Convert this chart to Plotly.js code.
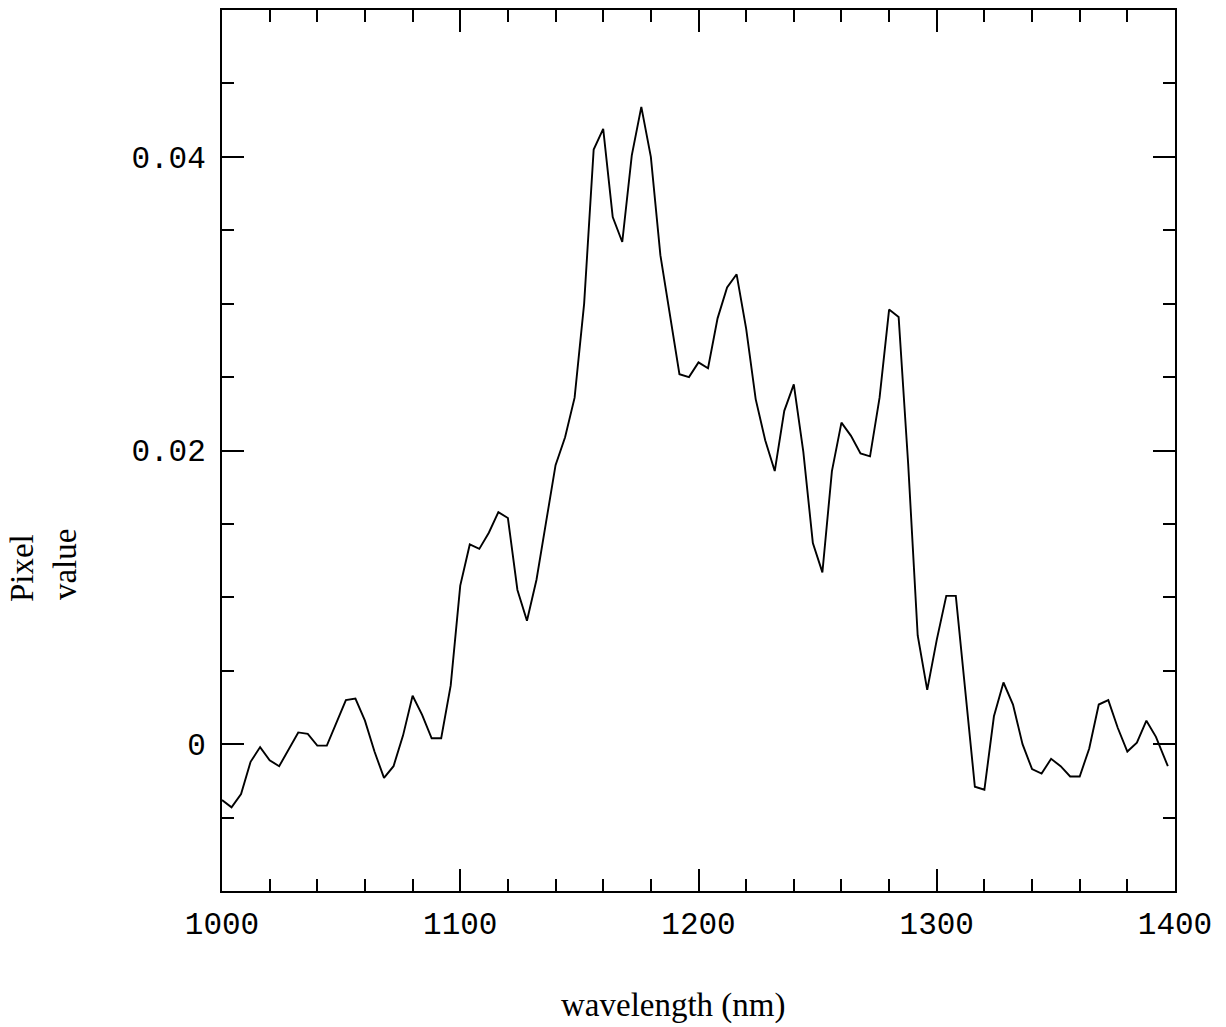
<!DOCTYPE html>
<html>
<head>
<meta charset="utf-8">
<script src="https://cdn.plot.ly/plotly-3.0.1.min.js"></script>
<style>
  html, body { margin: 0; padding: 0; background: #ffffff; }
  #chart { width: 1226px; height: 1027px; }
</style>
</head>
<body>
<div id="chart"></div>
<script>
const wavelength = [
  1000, 1004, 1008, 1012, 1016, 1020, 1024, 1028, 1032, 1036,
  1040, 1044, 1048, 1052, 1056, 1060, 1064, 1068, 1072, 1076,
  1080, 1084, 1088, 1092, 1096, 1100, 1104, 1108, 1112, 1116,
  1120, 1124, 1128, 1132, 1136, 1140, 1144, 1148, 1152, 1156,
  1160, 1164, 1168, 1172, 1176, 1180, 1184, 1188, 1192, 1196,
  1200, 1204, 1208, 1212, 1216, 1220, 1224, 1228, 1232, 1236,
  1240, 1244, 1248, 1252, 1256, 1260, 1264, 1268, 1272, 1276,
  1280, 1284, 1288, 1292, 1296, 1300, 1304, 1308, 1312, 1316,
  1320, 1324, 1328, 1332, 1336, 1340, 1344, 1348, 1352, 1356,
  1360, 1364, 1368, 1372, 1376, 1380, 1384, 1388, 1392, 1397
];

const pixelValue = [
  -0.0038, -0.0043, -0.0034, -0.0012, -0.0002, -0.0011, -0.0015, -0.0004, 0.0008, 0.0007,
  -0.0001, -0.0001, 0.0015, 0.0030, 0.0031, 0.0016, -0.0005, -0.0023, -0.0015, 0.0006,
  0.0033, 0.0020, 0.0004, 0.0004, 0.0040, 0.0108, 0.0136, 0.0133, 0.0144, 0.0158,
  0.0154, 0.0105, 0.0084, 0.0112, 0.0151, 0.0190, 0.0209, 0.0236, 0.0300, 0.0405,
  0.0419, 0.0359, 0.0342, 0.0401, 0.0434, 0.0400, 0.0333, 0.0291, 0.0252, 0.0250,
  0.0260, 0.0256, 0.0290, 0.0311, 0.0320, 0.0283, 0.0235, 0.0207, 0.0186, 0.0227,
  0.0245, 0.0199, 0.0137, 0.0117, 0.0186, 0.0219, 0.0210, 0.0198, 0.0196, 0.0236,
  0.0296, 0.0291, 0.0191, 0.0074, 0.0037, 0.0071, 0.0101, 0.0101, 0.0036, -0.0029,
  -0.0031, 0.0019, 0.0042, 0.0027, 0.0000, -0.0017, -0.0020, -0.0010, -0.0015, -0.0022,
  -0.0022, -0.0003, 0.0027, 0.0030, 0.0011, -0.0005, 0.0001, 0.0016, 0.0005, -0.0015
];

const xTitle = 'wavelength (nm)';
const yTitleLines = ['Pixel', 'value'];

const tickFont = { family: 'Liberation Mono, Courier New, monospace', size: 31, color: '#000000' };
const titleFont = { family: 'Liberation Serif, Times New Roman, serif', size: 33, color: '#000000' };

const trace = {
  x: wavelength,
  y: pixelValue,
  type: 'scatter',
  mode: 'lines',
  line: { color: '#000000', width: 1.9 },
  hoverinfo: 'x+y',
  showlegend: false
};

const axisCommon = {
  showline: true,
  linecolor: '#000000',
  linewidth: 2,
  mirror: 'allticks',
  ticks: 'inside',
  tickcolor: '#000000',
  tickwidth: 2,
  ticklen: 22,
  showgrid: false,
  zeroline: false,
  tickfont: tickFont,
  fixedrange: true
};

const layout = {
  width: 1226,
  height: 1027,
  margin: { l: 222, r: 51, t: 10, b: 136, pad: 0 },
  paper_bgcolor: '#ffffff',
  plot_bgcolor: '#ffffff',
  xaxis: Object.assign({}, axisCommon, {
    range: [1000, 1400],
    tickmode: 'linear',
    tick0: 1000,
    dtick: 100,
    ticklabelstandoff: 4,
    minor: { ticks: 'inside', dtick: 20, ticklen: 12, tickwidth: 2, tickcolor: '#000000', showgrid: false }
  }),
  yaxis: Object.assign({}, axisCommon, {
    range: [-0.01, 0.05],
    tickmode: 'linear',
    tick0: 0,
    dtick: 0.02,
    ticklabelstandoff: 8,
    minor: { ticks: 'inside', dtick: 0.005, ticklen: 12, tickwidth: 2, tickcolor: '#000000', showgrid: false }
  }),
  annotations: [
    {
      text: xTitle, xref: 'paper', yref: 'paper',
      x: 0.4733, y: -0.1294, xanchor: 'center', yanchor: 'middle',
      showarrow: false, font: titleFont
    },
    {
      text: yTitleLines[0], xref: 'paper', yref: 'paper',
      x: -0.2105, y: 0.367, xanchor: 'center', yanchor: 'middle',
      textangle: -90, showarrow: false, font: titleFont
    },
    {
      text: yTitleLines[1], xref: 'paper', yref: 'paper',
      x: -0.1647, y: 0.370, xanchor: 'center', yanchor: 'middle',
      textangle: -90, showarrow: false, font: titleFont
    }
  ]
};

Plotly.newPlot('chart', [trace], layout, { displayModeBar: false, staticPlot: false });
</script>
</body>
</html>
